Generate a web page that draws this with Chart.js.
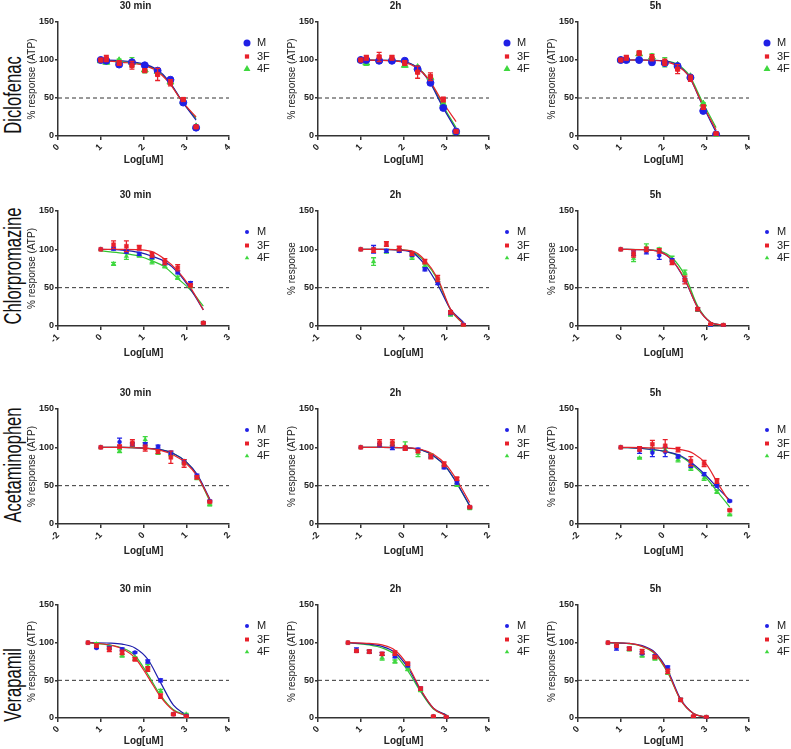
<!DOCTYPE html>
<html>
<head>
<meta charset="utf-8">
<script src="https://cdn.jsdelivr.net/npm/chart.js@4.4.1/dist/chart.umd.min.js"></script>
<style>
  body { margin: 0; background: #fff; width: 791px; height: 749px; position: relative; overflow: hidden;
         font-family: 'Liberation Sans', Arial, sans-serif; }
  canvas { position: absolute; }
  .drug { position: absolute; left: 13px; font-size: 23px; white-space: nowrap; color: #111;
          transform: translate(-50%, -50%) rotate(-90deg) scaleX(0.72); }
</style>
</head>
<body>
<script>
// labels
const drugs = ['Diclofenac', 'Chlorpromazine', 'Acetaminophen', 'Verapamil'];
const times = ['30 min', '2h', '5h'];
const seriesNames = ['M', '3F', '4F'];
const yTicks = [0, 50, 100, 150];
const xTicks = [[0, 1, 2, 3, 4], [-1, 0, 1, 2, 3], [-2, -1, 0, 1, 2], [0, 1, 2, 3, 4]];
const yTitles = [
  ['% response (ATP)', '% response (ATP)', '% response (ATP)'],
  ['% response (ATP)', '% response', '% response'],
  ['% response (ATP)', '% response (ATP)', '% response (ATP)'],
  ['% response (ATP)', '% response (ATP)', '% response (ATP)']
];

// Diclofenac (rows: 30 min, 2h, 5h)
const diclofenacDose = [1.0, 1.13, 1.43, 1.73, 2.03, 2.33, 2.63, 2.93, 3.23];
const diclofenacM  = [[100, 99, 94, 97, 93, 86, 74, 44, 11], [100, 100, 99, 99, 99, 88, 70, 37, 6], [100, 100, 100, 97, 96, 92, 77, 33, 2]];
const diclofenac3F = [[100, 102, 96, 93, 86, 81, 70, 48, 12], [100, 103, 104, 103, 96, 84, 78, 48, 6], [100, 103, 109, 103, 97, 88, 76, 38, 3]];
const diclofenac4F = [[99, 97, 99, 97, 87, 85, 71, 45, 12], [100, 96, 100, 101, 93, 90, 77, 42, 5], [100, 100, 108, 104, 97, 93, 78, 42, 1]];
const diclofenacMErr  = [[0, 1, 1, 2, 1, 2, 3, 2, 1], [0, 2, 3, 2, 2, 2, 3, 2, 1], [0, 1, 1, 3, 2, 2, 2, 2, 1]];
const diclofenac3FErr = [[0, 4, 3, 5, 2, 8, 4, 2, 1], [0, 3, 6, 3, 3, 8, 5, 3, 1], [0, 3, 3, 4, 4, 6, 4, 3, 1]];
const diclofenac4FErr = [[0, 2, 2, 6, 4, 3, 3, 2, 1], [0, 3, 2, 2, 2, 2, 3, 2, 1], [0, 1, 2, 4, 6, 2, 2, 2, 1]];
const diclofenacFitX = [1.0, 1.5, 2.0, 2.3, 2.6, 2.9, 3.23];
const diclofenacFitM  = [[100, 99, 95, 88, 72, 46, 21], [100, 99.5, 98, 91, 72, 40, 8], [100, 100, 99, 94, 78, 42, 5]];
const diclofenacFit3F = [[99, 97, 93, 86, 70, 46, 25], [100, 99.5, 97, 90, 74, 46, 19], [100, 100, 98, 93, 78, 43, 8]];
const diclofenacFit4F = [[99.5, 98, 94, 87, 71, 46, 23], [100, 99.5, 98, 91, 74, 42, 11], [100, 100, 99, 95, 80, 46, 11]];

// Chlorpromazine
const chlorDose = [0, 0.3, 0.6, 0.9, 1.2, 1.5, 1.8, 2.1, 2.4];
const chlorM  = [[100, 101, 97, 94, 90, 82, 70, 56, 4], [100, 100, 98, 98, 93, 74, 56, 17, 2], [100, 95, 97, 92, 86, 60, 22, 1, 1]];
const chlor3F = [[100, 106, 104, 102, 93, 84, 76, 53, 4], [100, 99, 107, 101, 94, 84, 62, 18, 1], [100, 94, 100, 98, 83, 60, 22, 2, 1]];
const chlor4F = [[100, 81, 91, 92, 84, 78, 63, 52, 4], [100, 84, 97, 99, 90, 79, 59, 15, 1], [100, 88, 103, 100, 88, 70, 21, 1, 1]];
const chlorMErr  = [[0, 2, 2, 2, 2, 2, 2, 2, 1], [0, 5, 2, 2, 2, 2, 2, 2, 1], [0, 3, 3, 5, 2, 2, 2, 1, 1]];
const chlor3FErr = [[0, 5, 7, 3, 3, 4, 4, 2, 1], [0, 3, 3, 3, 2, 3, 4, 2, 1], [0, 4, 3, 3, 3, 5, 2, 1, 1]];
const chlor4FErr = [[0, 2, 4, 2, 3, 2, 2, 2, 1], [0, 5, 2, 2, 3, 2, 2, 2, 1], [0, 4, 4, 2, 3, 3, 2, 1, 1]];
const chlorFitX = [0, 0.5, 0.9, 1.2, 1.5, 1.8, 2.1, 2.4];
const chlorFitM  = [[100, 99, 96, 91, 84, 70, 48, 21], [100, 100, 99, 96, 80, 54, 22, 5], [100, 99.5, 97, 86, 60, 24, 5, 1]];
const chlorFit3F = [[100, 100, 99.5, 97, 87, 72, 50, 21], [100, 100, 99.5, 98, 86, 62, 22, 3], [100, 99.5, 97, 86, 61, 24, 5, 1]];
const chlorFit4F = [[98, 95, 91, 85, 77, 62, 47, 26], [100, 100, 99.5, 97, 84, 60, 21, 3], [100, 99.8, 98, 89, 66, 26, 5, 1]];

// Acetaminophen
const acetaDose = [-1, -0.56, -0.26, 0.04, 0.34, 0.64, 0.95, 1.25, 1.55];
const acetaM  = [[100, 107, 104, 104, 101, 93, 82, 63, 30], [100, 103, 100, 99, 97, 88, 74, 54, 22], [100, 96, 93, 94, 88, 76, 65, 50, 30]];
const aceta3F = [[100, 101, 106, 99, 94, 87, 79, 61, 29], [100, 106, 106, 99, 95, 88, 78, 59, 22], [100, 98, 104, 102, 97, 82, 79, 56, 18]];
const aceta4F = [[100, 95, 103, 110, 93, 91, 80, 60, 25], [100, 103, 104, 102, 92, 89, 75, 51, 20], [100, 86, 97, 97, 84, 73, 60, 42, 12]];
const acetaMErr  = [[0, 5, 2, 2, 2, 2, 2, 2, 1], [0, 2, 3, 2, 2, 2, 2, 2, 1], [0, 4, 5, 6, 2, 2, 2, 2, 1]];
const aceta3FErr = [[0, 2, 4, 4, 2, 8, 5, 2, 1], [0, 4, 4, 3, 2, 3, 3, 2, 1], [0, 3, 5, 8, 3, 6, 4, 3, 1]];
const aceta4FErr = [[0, 2, 2, 4, 2, 2, 2, 2, 1], [0, 2, 2, 5, 4, 2, 2, 2, 1], [0, 1, 2, 2, 3, 3, 3, 2, 1]];
const acetaFitX = [-1, -0.5, 0, 0.4, 0.7, 1.0, 1.25, 1.55];
const acetaFitM  = [[100, 100, 99, 97, 92, 81, 65, 33], [100, 100, 99.5, 97, 89, 74, 53, 24], [100, 98.5, 95, 89, 78, 63, 48, 31]];
const acetaFit3F = [[100, 100, 99, 96, 90, 79, 63, 32], [100, 100, 99.5, 97.5, 91, 77, 57, 28], [100, 99.5, 99, 97, 92, 78, 55, 28]];
const acetaFit4F = [[100, 100, 99, 97, 92, 81, 64, 30], [100, 100, 99.5, 97, 89, 74, 53, 23], [100, 98.5, 95, 88, 76, 60, 43, 22]];

// Verapamil
const veraDose = [0.7, 0.9, 1.2, 1.5, 1.8, 2.1, 2.4, 2.7, 3.0];
const veraM  = [[100, 93, 93, 91, 87, 75, 50, 5, 3], [100, 90, 88, 85, 82, 70, 39, 2, 1], [100, 93, 92, 86, 82, 67, 24, 2, 1]];
const vera3F = [[100, 96, 91, 87, 78, 65, 29, 5, 2], [100, 89, 88, 85, 86, 72, 39, 2, 1], [100, 96, 92, 88, 81, 62, 24, 2, 1]];
const vera4F = [[100, 98, 94, 83, 79, 68, 36, 5, 5], [100, 89, 88, 80, 75, 65, 37, 2, 1], [100, 96, 91, 83, 79, 60, 24, 2, 1]];
const veraMErr  = [[0, 1, 2, 2, 1, 2, 2, 1, 1], [0, 3, 2, 2, 2, 2, 2, 1, 1], [0, 3, 2, 2, 2, 2, 2, 1, 1]];
const vera3FErr = [[0, 2, 3, 3, 2, 3, 3, 1, 1], [0, 1, 2, 2, 3, 2, 2, 1, 1], [0, 2, 2, 3, 2, 3, 2, 1, 1]];
const vera4FErr = [[0, 2, 2, 2, 2, 3, 2, 1, 1], [0, 2, 2, 3, 2, 2, 2, 1, 1], [0, 2, 2, 2, 2, 2, 2, 1, 1]];
const veraFitX = [0.7, 1.2, 1.5, 1.8, 2.1, 2.4, 2.7, 3.0];
const veraFitM  = [[100, 99.5, 98, 93, 78, 47, 17, 4], [100, 98, 95, 87, 67, 37, 13, 4], [100, 99, 96, 87, 63, 25, 6, 1]];
const veraFit3F = [[100, 97, 92, 80, 55, 28, 10, 3], [100, 99, 97, 90, 70, 38, 13, 3], [100, 99, 95, 86, 61, 24, 6, 1]];
const veraFit4F = [[100, 97, 93, 83, 58, 30, 11, 4], [100, 97, 93, 84, 63, 35, 12, 4], [100, 98.5, 95, 85, 60, 24, 6, 1]];

const panels = [
  { dose: diclofenacDose, vals: [diclofenacM, diclofenac3F, diclofenac4F], errs: [diclofenacMErr, diclofenac3FErr, diclofenac4FErr],
    fitX: diclofenacFitX, fits: [diclofenacFitM, diclofenacFit3F, diclofenacFit4F] },
  { dose: chlorDose, vals: [chlorM, chlor3F, chlor4F], errs: [chlorMErr, chlor3FErr, chlor4FErr],
    fitX: chlorFitX, fits: [chlorFitM, chlorFit3F, chlorFit4F] },
  { dose: acetaDose, vals: [acetaM, aceta3F, aceta4F], errs: [acetaMErr, aceta3FErr, aceta4FErr],
    fitX: acetaFitX, fits: [acetaFitM, acetaFit3F, acetaFit4F] },
  { dose: veraDose, vals: [veraM, vera3F, vera4F], errs: [veraMErr, vera3FErr, vera4FErr],
    fitX: veraFitX, fits: [veraFitM, veraFit3F, veraFit4F] }
];

// layout of the grid
const chartTop = [22, 211, 409, 605];
const chartBottom = [136, 326, 524, 718];
const xAxisH = [30, 33, 33, 29];
const drugLabelY = [95, 266, 465, 685];

const pointColors = ['#2020e6', '#e8202a', '#3fd83f'];
const lineColors = ['#1c1cab', '#e4232b', '#30c430'];
const pointStyles = ['circle', 'rect', 'triangle'];
const drawOrder = [1, 0, 2];
const FONT = "'Liberation Sans', Arial, sans-serif";

function marker(ctx, style, x, y, r, color) {
  ctx.fillStyle = color;
  ctx.beginPath();
  if (style === 'circle') {
    ctx.arc(x, y, r, 0, Math.PI * 2);
  } else if (style === 'rect') {
    const s = r / Math.SQRT2;
    ctx.rect(x - s, y - s, 2 * s, 2 * s);
  } else {
    ctx.moveTo(x, y - r);
    ctx.lineTo(x + r * 0.866, y + r * 0.5);
    ctx.lineTo(x - r * 0.866, y + r * 0.5);
    ctx.closePath();
  }
  ctx.fill();
}

const decor = {
  id: 'decor',
  // error bars go under their own markers
  beforeDatasetDraw(chart, args) {
    const ds = chart.data.datasets[args.index];
    if (!ds.errors) return;
    const ctx = chart.ctx, xs = chart.scales.x, ys = chart.scales.y;
    ctx.save();
    ctx.strokeStyle = ds.borderColor;
    ctx.lineWidth = 1.3;
    ds.data.forEach((p, i) => {
      const e = ds.errors[i];
      if (!e) return;
      const px = xs.getPixelForValue(p.x);
      const t = ys.getPixelForValue(p.y + e), b = ys.getPixelForValue(p.y - e);
      ctx.beginPath();
      ctx.moveTo(px, t); ctx.lineTo(px, b);
      ctx.moveTo(px - 2.5, t); ctx.lineTo(px + 2.5, t);
      ctx.moveTo(px - 2.5, b); ctx.lineTo(px + 2.5, b);
      ctx.stroke();
    });
    ctx.restore();
  },
  // panel title and legend
  afterDraw(chart, args, opts) {
    const ctx = chart.ctx, a = chart.chartArea;
    ctx.save();
    ctx.fillStyle = '#222';
    ctx.font = 'bold 10px ' + FONT;
    ctx.textAlign = 'center';
    ctx.textBaseline = 'middle';
    ctx.fillText(opts.title, (a.left + a.right) / 2 - 8, a.top - 16);
    const rows = [21, 34.5, 47];
    seriesNames.forEach((name, i) => {
      marker(ctx, pointStyles[i], a.right + 18, a.top + rows[i], opts.radii[i], pointColors[i]);
      ctx.fillStyle = '#222';
      ctx.font = '11px ' + FONT;
      ctx.textAlign = 'left';
      ctx.fillText(name, a.right + 28, a.top + rows[i]);
    });
    ctx.restore();
  }
};

drugs.forEach((drug, r) => {
  const lab = document.createElement('div');
  lab.className = 'drug';
  lab.textContent = drug;
  lab.style.top = drugLabelY[r] + 'px';
  document.body.appendChild(lab);

  const p = panels[r];
  const xmin = xTicks[r][0], xmax = xTicks[r][xTicks[r].length - 1];
  const radii = r === 0 ? [3.5, 3, 4] : [2, 2.8, 2.6];

  times.forEach((time, c) => {
    const cv = document.createElement('canvas');
    const h = 22 + (chartBottom[r] - chartTop[r]) + xAxisH[r];
    cv.width = 246;
    cv.height = h;
    cv.style.left = (c * 260 + 24) + 'px';
    cv.style.top = (chartTop[r] - 22) + 'px';
    document.body.appendChild(cv);

    const datasets = [];
    seriesNames.forEach((name, s) => {
      datasets.push({
        label: name,
        data: p.dose.map((x, i) => ({ x: x, y: p.vals[s][c][i] })),
        errors: p.errs[s][c],
        showLine: false,
        pointStyle: pointStyles[s],
        pointRadius: radii[s],
        backgroundColor: pointColors[s],
        borderColor: pointColors[s],
        borderWidth: r === 0 ? 1 : 0.5,
        order: drawOrder[s]
      });
    });
    seriesNames.forEach((name, s) => {
      datasets.push({
        label: name + ' fit',
        data: p.fitX.map((x, i) => ({ x: x, y: p.fits[s][c][i] })),
        showLine: true,
        pointRadius: 0,
        borderColor: lineColors[s],
        borderWidth: 1.2,
        cubicInterpolationMode: 'monotone',
        order: 3 + drawOrder[s]
      });
    });
    datasets.push({
      label: 'IC50',
      data: [{ x: xmin, y: 50 }, { x: xmax, y: 50 }],
      showLine: true,
      pointRadius: 0,
      borderColor: '#333',
      borderWidth: 1,
      borderDash: [4, 3],
      order: 9
    });

    new Chart(cv, {
      type: 'scatter',
      data: { datasets: datasets },
      options: {
        responsive: false,
        animation: false,
        devicePixelRatio: 1,
        layout: { padding: { top: 22, right: 41, left: 0, bottom: 0 } },
        plugins: {
          legend: { display: false },
          tooltip: { enabled: false },
          decor: { title: time, radii: radii }
        },
        scales: {
          x: {
            type: 'linear', min: xmin, max: xmax,
            afterBuildTicks: s => { s.ticks = xTicks[r].map(v => ({ value: v })); },
            afterFit: s => { s.height = xAxisH[r]; },
            border: { color: '#333', width: 1.5 },
            grid: { display: true, drawOnChartArea: false, drawTicks: true, tickLength: 4, color: '#333', lineWidth: 1.5 },
            ticks: { minRotation: 45, maxRotation: 45, padding: 2, color: '#222', font: { family: FONT, size: 9, weight: 'bold' } },
            title: { display: true, text: 'Log[uM]', color: '#222', font: { family: FONT, size: 10, weight: 'bold' }, padding: { top: 0, bottom: 0 } }
          },
          y: {
            min: 0, max: 150,
            afterBuildTicks: s => { s.ticks = yTicks.map(v => ({ value: v })); },
            afterFit: s => { s.width = 34; },
            border: { color: '#333', width: 1.5 },
            grid: { display: true, drawOnChartArea: false, drawTicks: true, tickLength: 3, color: '#333', lineWidth: 1.5 },
            ticks: { padding: 1, color: '#222', font: { family: FONT, size: 9, weight: 'bold' } },
            title: { display: true, text: yTitles[r][c], color: '#222', font: { family: FONT, size: 10 }, padding: { top: 2, bottom: 0 } }
          }
        }
      },
      plugins: [decor]
    });
  });
});
</script>
</body>
</html>
